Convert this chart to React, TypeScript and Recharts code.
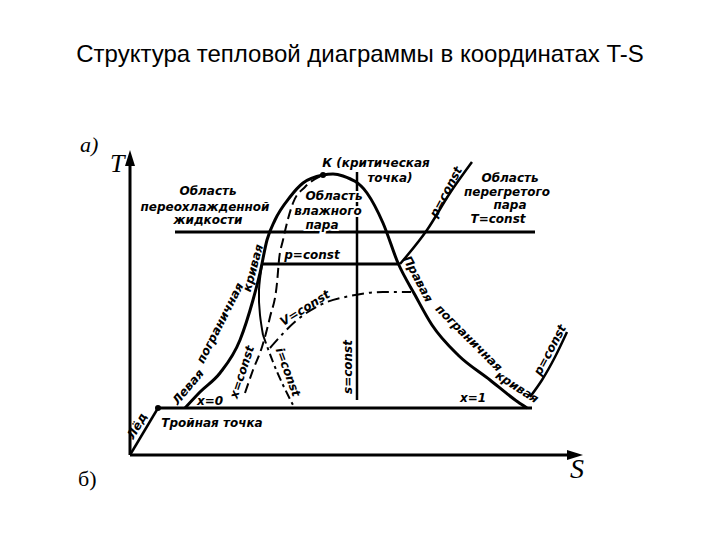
import { ComposedChart, Line, Scatter, XAxis, YAxis } from 'recharts'

type Pt = { s: number; t: number }
type Note = { s: number; t: number; text: string; angle?: number; halo?: boolean }

// S, T in conventional units (no scale on the original diagram)
const dome: Pt[] = [
  { s: 55, t: 47 }, { s: 70, t: 63 }, { s: 90, t: 82 }, { s: 110, t: 115 }, { s: 123, t: 155 },
  { s: 130, t: 182 }, { s: 137, t: 215 }, { s: 145, t: 235 }, { s: 160, t: 258 }, { s: 173, t: 272 },
  { s: 193, t: 280 }, { s: 203, t: 281 }, { s: 213, t: 279 }, { s: 237, t: 262 }, { s: 253, t: 232 },
  { s: 268, t: 192 }, { s: 285, t: 160 }, { s: 302, t: 130 }, { s: 328, t: 100 }, { s: 360, t: 75 },
  { s: 388, t: 53 }, { s: 397, t: 47 },
]
const sAxis: Pt[] = [{ s: 0, t: 0 }, { s: 445, t: 0 }]
const tAxis: Pt[] = [{ s: 0, t: 0 }, { s: 0, t: 297 }]
const tripleLine: Pt[] = [{ s: 28, t: 47 }, { s: 402, t: 47 }]
const iceLine: Pt[] = [{ s: 0, t: 0 }, { s: 28, t: 47 }]
const isotherm: Pt[] = [{ s: 45, t: 223 }, { s: 405, t: 223 }]
const isobarWet: Pt[] = [{ s: 132, t: 191 }, { s: 270, t: 191 }]
const isobarSteam: Pt[] = [{ s: 270, t: 191 }, { s: 297, t: 225 }, { s: 320, t: 262 }, { s: 342, t: 293 }]
const isobarLow: Pt[] = [{ s: 400, t: 58 }, { s: 412, t: 75 }, { s: 425, t: 98 }, { s: 437, t: 123 }]
const isentrope: Pt[] = [{ s: 227, t: 283 }, { s: 227, t: 55 }]
const drynessLine: Pt[] = [
  { s: 115, t: 62 }, { s: 123, t: 85 }, { s: 132, t: 108 }, { s: 140, t: 138 }, { s: 147, t: 172 },
  { s: 149, t: 195 }, { s: 153, t: 215 }, { s: 163, t: 252 }, { s: 175, t: 268 }, { s: 193, t: 280 },
]
const isochore: Pt[] = [
  { s: 140, t: 107 }, { s: 167, t: 135 }, { s: 190, t: 150 }, { s: 220, t: 159 }, { s: 253, t: 163 }, { s: 281, t: 163 },
]
const liquidLine: Pt[] = [{ s: 132, t: 191 }, { s: 129, t: 165 }, { s: 130, t: 140 }, { s: 133, t: 120 }]
const isenthalp: Pt[] = [{ s: 133, t: 120 }, { s: 143, t: 93 }, { s: 153, t: 70 }, { s: 163, t: 50 }]
const specialPoints: Pt[] = [{ s: 28, t: 47 }, { s: 193, t: 280 }]

const notes: Note[] = [
  { s: 78, t: 264, text: 'Область' },
  { s: 75, t: 248, text: 'переохлажденной' },
  { s: 78, t: 235, text: 'жидкости' },
  { s: 246, t: 292, text: 'К (критическая' },
  { s: 260, t: 277, text: 'точка)' },
  { s: 204, t: 259, text: 'Область', halo: true },
  { s: 198, t: 244, text: 'влажного', halo: true },
  { s: 192, t: 230, text: 'пара', halo: true },
  { s: 380, t: 277, text: 'Область' },
  { s: 377, t: 263, text: 'перегретого' },
  { s: 380, t: 250, text: 'пара' },
  { s: 368, t: 236, text: 'T=const' },
  { s: 316, t: 263, text: 'p=const', angle: -62 },
  { s: 182, t: 200, text: 'p=const' },
  { s: 58, t: 68, text: 'Левая', angle: -50 },
  { s: 90, t: 132, text: 'пограничная', angle: -63 },
  { s: 123, t: 187, text: 'кривая', angle: -75 },
  { s: 288, t: 176, text: 'Правая', angle: 62 },
  { s: 339, t: 117, text: 'пограничная', angle: 45 },
  { s: 387, t: 68, text: 'кривая', angle: 33 },
  { s: 175, t: 147, text: 'V=const', angle: -32 },
  { s: 112, t: 83, text: 'x=const', angle: -72 },
  { s: 158, t: 83, text: 'i=const', angle: 70 },
  { s: 218, t: 88, text: 's=const', angle: -90 },
  { s: 80, t: 54, text: 'x=0' },
  { s: 343, t: 57, text: 'x=1' },
  { s: 82, t: 32, text: 'Тройная точка' },
  { s: 7, t: 29, text: 'Лёд', angle: -60 },
  { s: 420, t: 105, text: 'p=const', angle: -62 },
]

const W = 720
const H = 540
const margin = { top: 150, right: 137, bottom: 85, left: 130 }
const plotRight = W - margin.right
const plotBottom = H - margin.bottom

const hand = { fontFamily: "'DejaVu Sans', sans-serif", fontStyle: 'italic', fontWeight: 700, fontSize: 12 }
const serif = { fontFamily: "'Liberation Serif', serif" }

function NoteShape(props: any) {
  const { cx, cy, payload } = props
  const a = payload.angle || 0
  return (
    <text
      x={cx}
      y={cy}
      transform={`rotate(${a} ${cx} ${cy})`}
      textAnchor="middle"
      dominantBaseline="central"
      fill="#000"
      stroke={payload.halo ? '#fff' : 'none'}
      strokeWidth={payload.halo ? 4 : 0}
      paintOrder="stroke"
      style={hand}
    >
      {payload.text}
    </text>
  )
}

function DotShape(props: any) {
  return <circle cx={props.cx} cy={props.cy} r={3} fill="#000" />
}

const solid = { stroke: '#000', dot: false, activeDot: false, isAnimationActive: false, dataKey: 't' } as const

export default function App() {
  const l = margin.left
  const t = margin.top
  return (
    <div style={{ position: 'absolute', left: 0, top: 0, width: W, height: H, background: '#fff' }}>
      <div style={{ position: 'absolute', left: 0, top: 40, width: W, textAlign: 'center', fontFamily: "'Liberation Sans', Arial, sans-serif", fontSize: 24, color: '#000' }}>
        Структура тепловой диаграммы в координатах T-S
      </div>
      <div style={{ position: 'absolute', left: 0, top: 0 }}>
        <ComposedChart width={W} height={H} margin={margin}>
          <XAxis type="number" dataKey="s" domain={[0, 453]} height={0} tick={false} tickLine={false} axisLine={false} />
          <YAxis type="number" dataKey="t" domain={[0, 305]} width={0} tick={false} tickLine={false} axisLine={false} />
          <Line {...solid} data={sAxis} type="linear" strokeWidth={3} />
          <Line {...solid} data={tAxis} type="linear" strokeWidth={3} />
          <Line {...solid} data={tripleLine} type="linear" strokeWidth={3} />
          <Line {...solid} data={iceLine} type="linear" strokeWidth={2.5} />
          <Line {...solid} data={dome} type="monotone" strokeWidth={3} />
          <Line {...solid} data={isotherm} type="linear" strokeWidth={3} />
          <Line {...solid} data={isobarWet} type="linear" strokeWidth={3} />
          <Line {...solid} data={isobarSteam} type="monotone" strokeWidth={2.5} />
          <Line {...solid} data={isobarLow} type="monotone" strokeWidth={2.5} />
          <Line {...solid} data={isentrope} type="linear" strokeWidth={2.5} />
          <Line {...solid} data={liquidLine} type="natural" strokeWidth={2} />
          <Line {...solid} data={isenthalp} type="natural" strokeWidth={2} strokeDasharray="9 4 3 4" />
          <Line {...solid} data={drynessLine} type="monotone" strokeWidth={2} strokeDasharray="10 5" />
          <Line {...solid} data={isochore} type="monotone" strokeWidth={2} strokeDasharray="12 5 3 5" />
          <Scatter data={specialPoints} dataKey="t" shape={DotShape} isAnimationActive={false} />
          <Scatter data={notes} dataKey="t" shape={NoteShape} isAnimationActive={false} />
        </ComposedChart>
      </div>
      {/* axis arrowheads and outer captions */}
      <svg width={W} height={H} style={{ position: 'absolute', left: 0, top: 0, pointerEvents: 'none' }}>
        <polygon points={`${l},${t} ${l - 5},${t + 16} ${l + 5},${t + 16}`} fill="#000" />
        <polygon points={`${plotRight},${plotBottom} ${plotRight - 16},${plotBottom - 5} ${plotRight - 16},${plotBottom + 5}`} fill="#000" />
        <text x={80} y={152} style={{ ...serif, fontStyle: 'italic', fontSize: 22 }}>a)</text>
        <text x={110} y={172} style={{ ...serif, fontStyle: 'italic', fontSize: 26 }}>T</text>
        <text x={570} y={478} style={{ ...serif, fontStyle: 'italic', fontSize: 28 }}>S</text>
        <text x={78} y={486} style={{ ...serif, fontSize: 22 }}>б)</text>
      </svg>
    </div>
  )
}
